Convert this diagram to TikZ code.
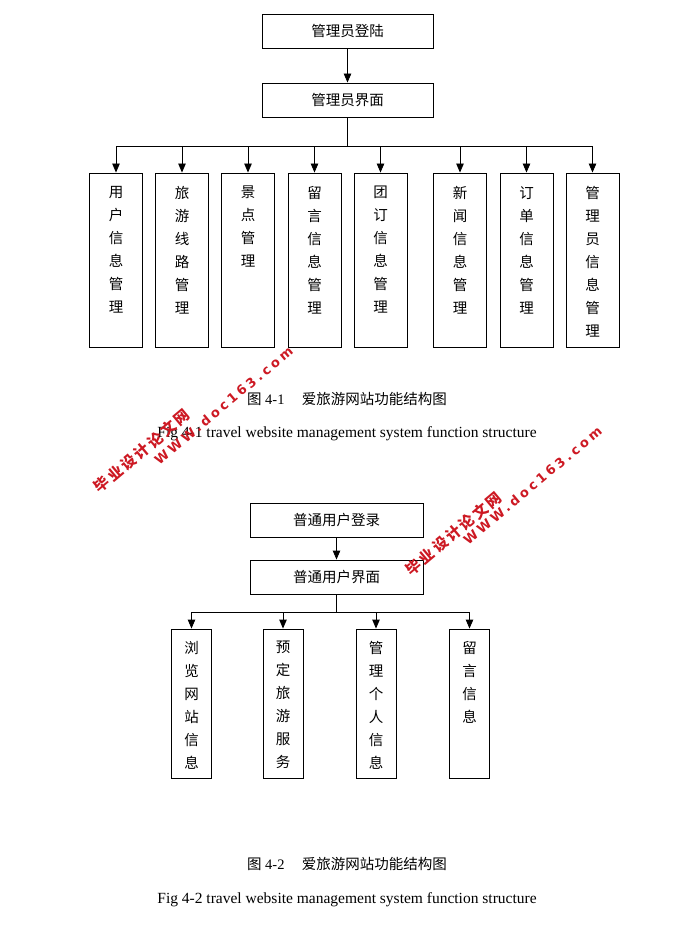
\documentclass[tikz,border=0pt]{standalone}
\usepackage{fontspec}
\setmainfont{Liberation Serif}
\newfontfamily\cjk{Noto Sans CJK SC}
\newfontfamily\wmcjk{Noto Sans CJK SC}[LetterSpace=16]
\newfontfamily\wmlat{DejaVu Sans}[LetterSpace=24]
\usetikzlibrary{arrows.meta}
\definecolor{wmred}{RGB}{205,25,35}
\begin{document}
\begin{tikzpicture}[x=1pt,y=-1pt,
  hbox/.style={draw, line width=0.9pt, inner sep=0pt, minimum height=34pt,
    font=\fontsize{14.5}{23}\selectfont\cjk},
  vbox/.style={draw, line width=0.9pt, inner sep=0pt},
  vtext/.style={anchor=north, inner sep=0pt, align=center,
    font=\fontsize{14.5}{23}\selectfont\cjk},
  arr/.style={line width=0.9pt, -{Triangle[length=9pt,width=7.5pt]}},
  capcn/.style={inner sep=0pt, font=\fontsize{14.5}{17}\selectfont},
  capen/.style={inner sep=0pt, font=\fontsize{15.5}{18}\selectfont},
  wmcn/.style={inner sep=0pt, text=wmred, rotate=40,
    font=\fontsize{15}{17}\selectfont\wmcjk\bfseries},
  wmen/.style={inner sep=0pt, text=wmred, rotate=40,
    font=\fontsize{13}{15}\selectfont\wmlat\bfseries}
]
\useasboundingbox (0,0) rectangle (700,928);
\fill[white] (0,0) rectangle (700,928);

% ---------- Figure 4-1 ----------
\node[hbox, minimum width=171pt] (login) at (347.5,31) {管理员登陆};
\node[hbox, minimum width=171pt] (iface) at (347.5,100) {管理员界面};
\draw[arr] (login) -- (iface);
\coordinate (bus1) at (0,146);

\foreach \n/\x/\t in {a1/116/{用\\户\\信\\息\\管\\理},
                       a2/182/{旅\\游\\线\\路\\管\\理},
                       a3/248/{景\\点\\管\\理},
                       a4/314.5/{留\\言\\信\\息\\管\\理},
                       a5/380.5/{团\\订\\信\\息\\管\\理},
                       a6/460/{新\\闻\\信\\息\\管\\理},
                       a7/526.5/{订\\单\\信\\息\\管\\理},
                       a8/592.5/{管\\理\\员\\信\\息\\管\\理}}{
  \node[vbox, minimum width=53pt, minimum height=174pt] (\n) at (\x,260) {};
  \node[vtext] (\n t) at (\x,186) {\t};
  \draw[arr] (iface.south) -- (iface.south |- bus1) -| (\n.north);
}

\node[capcn] (cap1) at (347,399) {{\cjk 图} 4-1\hspace{1.2em}{\cjk 爱旅游网站功能结构图}};
\node[capen] (cap1e) at (347,434) {Fig 4-1 travel website management system function structure};

% ---------- Figure 4-2 ----------
\node[hbox, minimum width=173pt] (ulogin) at (336.5,520) {普通用户登录};
\node[hbox, minimum width=173pt] (uiface) at (336.5,577) {普通用户界面};
\draw[arr] (ulogin) -- (uiface);
\coordinate (bus2) at (0,612);

\foreach \n/\x/\t in {b1/191.5/{浏\\览\\网\\站\\信\\息},
                       b2/283/{预\\定\\旅\\游\\服\\务},
                       b3/376/{管\\理\\个\\人\\信\\息},
                       b4/469.5/{留\\言\\信\\息}}{
  \node[vbox, minimum width=40pt, minimum height=149pt] (\n) at (\x,703.5) {};
  \node[vtext] (\n t) at (\x,641) {\t};
  \draw[arr] (uiface.south) -- (uiface.south |- bus2) -| (\n.north);
}

\node[capcn] (cap2) at (347,864) {{\cjk 图} 4-2\hspace{1.2em}{\cjk 爱旅游网站功能结构图}};
\node[capen] (cap2e) at (347,900) {Fig 4-2 travel website management system function structure};

% ---------- watermarks ----------
\node[wmcn] (wm1c) at (142,451) {毕业设计论文网};
\node[wmen] (wm1e) at (223.5,405.5) {WWW.doc163.com};
\node[wmcn] (wm2c) at (453.5,533.5) {毕业设计论文网};
\node[wmen] (wm2e) at (532.5,485.5) {WWW.doc163.com};
\end{tikzpicture}
\end{document}
